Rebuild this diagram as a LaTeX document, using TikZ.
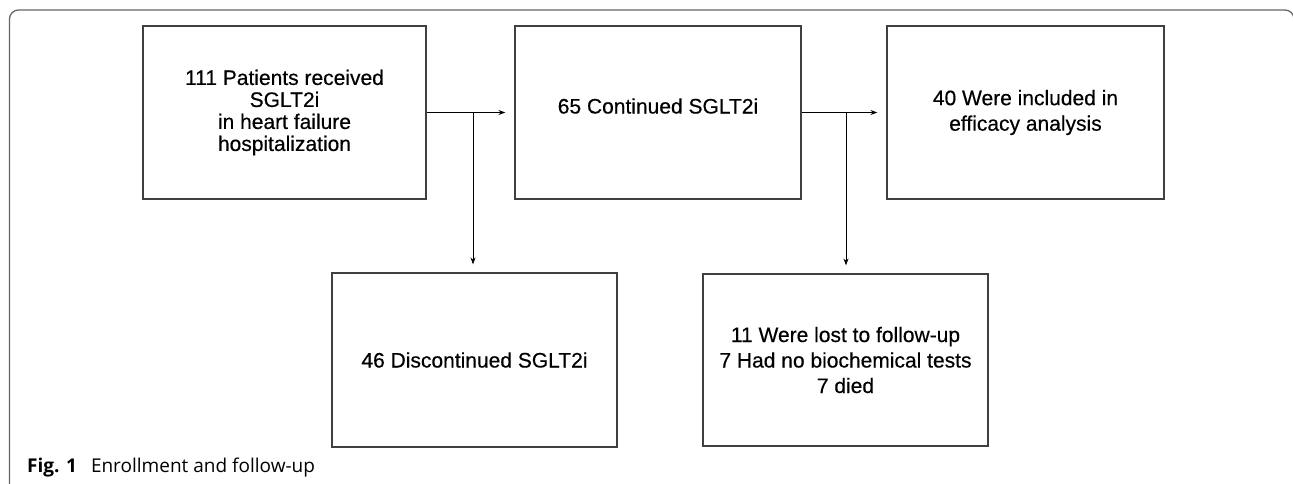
\documentclass[tikz,border=0pt]{standalone}
\usepackage{fontspec}
\setmainfont{Liberation Sans}[FakeBold=0.4]
\newfontfamily\capfont{Open Sans}
\usetikzlibrary{arrows.meta}
\definecolor{boxgray}{HTML}{404040}
\definecolor{framegray}{HTML}{666666}
\begin{document}
\begin{tikzpicture}[x=1pt,y=-1pt,
  box/.style={draw=boxgray, line width=1.2pt, align=center, inner sep=0pt,
    font=\fontsize{21}{22}\selectfont},
  wide/.style={font=\fontsize{21}{25.5}\selectfont},
  arr/.style={-{Stealth[length=7pt,width=5pt]}, line width=0.9pt},
  ln/.style={line width=0.9pt}]
\useasboundingbox (0,0) rectangle (1293,483);
\fill[white] (0,0) rectangle (1293,483);
% frame
\draw[framegray, line width=1.3pt, rounded corners=9pt] (9.5,500) -- (9.5,10) -- (1294,10) -- (1294,500);
% boxes
\node[box, minimum width=283pt, minimum height=173pt] (b1) at (284.5,112.5)
  {111 Patients received\\SGLT2i\\in heart failure\\hospitalization};
\node[box, minimum width=286pt, minimum height=173pt] (b2) at (658,112.5) {};
\node[font=\fontsize{21}{22}\selectfont, inner sep=0pt] (t2) at (658,106) {65 Continued SGLT2i};
\node[box, wide, minimum width=277pt, minimum height=173pt] (b3) at (1025.5,112.5)
  {40 Were included in\\efficacy analysis};
\node[box, minimum width=285pt, minimum height=174pt] (b4) at (474.5,360)
  {46 Discontinued SGLT2i};
\node[box, wide, minimum width=285pt, minimum height=172pt] (b5) at (845.5,360)
  {11 Were lost to follow-up\\7 Had no biochemical tests\\7 died};
% connectors
\coordinate (j1) at (473,112.5);
\coordinate (j2) at (846,112.5);
\draw[ln] (b1.east) -- (j1);
\draw[arr, shorten >=9pt] (j1) -- (b2.west);
\draw[arr, shorten >=8pt] (j1) -- (j1 |- b4.north);
\draw[ln] (b2.east) -- (j2);
\draw[arr, shorten >=9pt] (j2) -- (b3.west);
\draw[arr, shorten >=8pt] (j2) -- (j2 |- b5.north);
% caption
\node[anchor=base west, inner sep=0pt, font=\capfont\fontsize{19}{22}\selectfont] (cap) at (27,472)
  {\textbf{Fig. 1}\hspace{14pt}Enrollment and follow-up};
\end{tikzpicture}
\end{document}
